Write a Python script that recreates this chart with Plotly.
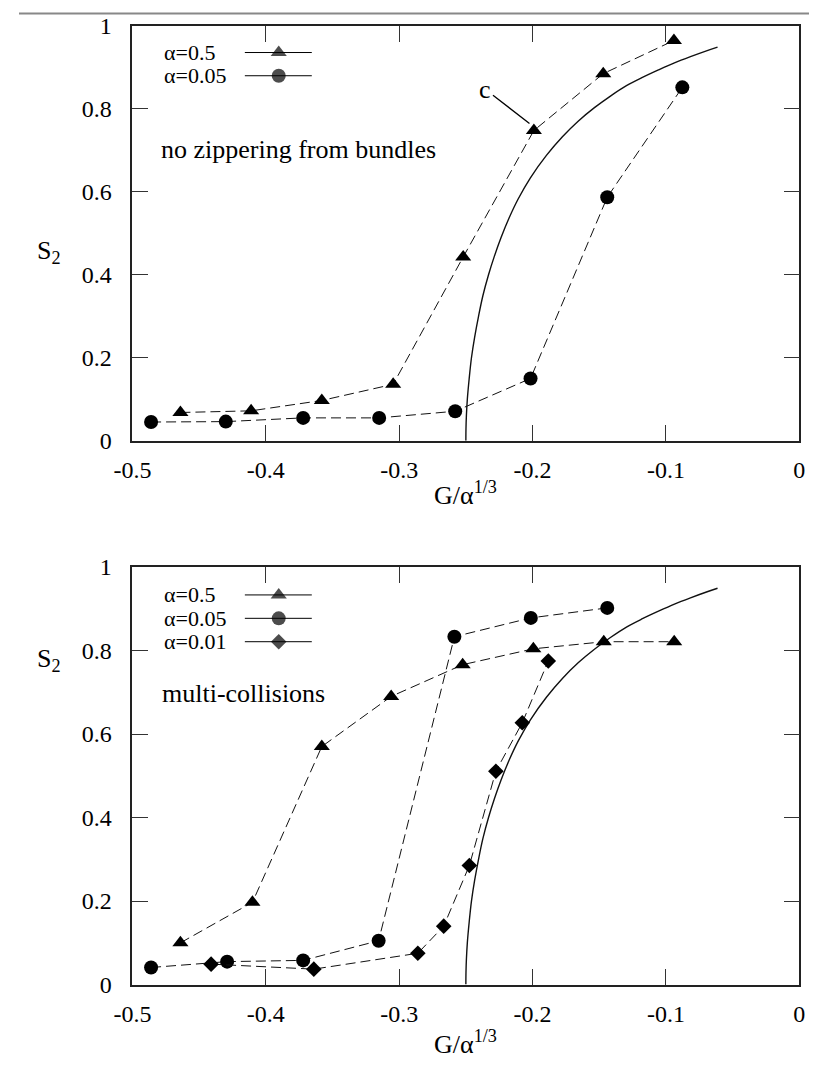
import plotly.graph_objects as go

# ---------------- data ----------------
# top panel: no zippering from bundles
top_a05_x = [-0.464, -0.411, -0.358, -0.3045, -0.252, -0.199, -0.147, -0.094]
top_a05_y = [0.068, 0.072, 0.097, 0.136, 0.443, 0.748, 0.885, 0.965]
top_a005_x = [-0.486, -0.430, -0.372, -0.315, -0.258, -0.2015, -0.144, -0.0877]
top_a005_y = [0.045, 0.046, 0.055, 0.055, 0.071, 0.150, 0.587, 0.852]

# bottom panel: multi-collisions
bot_a05_x = [-0.464, -0.410, -0.358, -0.306, -0.2524, -0.1994, -0.1466, -0.0938]
bot_a05_y = [0.100, 0.197, 0.570, 0.690, 0.766, 0.804, 0.821, 0.821]
bot_a005_x = [-0.486, -0.429, -0.372, -0.3154, -0.2586, -0.2013, -0.144]
bot_a005_y = [0.041, 0.055, 0.058, 0.105, 0.833, 0.878, 0.902]
bot_a001_x = [-0.441, -0.364, -0.286, -0.2666, -0.2474, -0.2275, -0.2077, -0.1882]
bot_a001_y = [0.049, 0.037, 0.075, 0.140, 0.285, 0.511, 0.627, 0.775]

# theory curve (solid)
curve_x = [-0.25, -0.2499, -0.2496, -0.2489, -0.2475, -0.2458, -0.2434, -0.2405,
           -0.2372, -0.233, -0.2286, -0.2236, -0.2176, -0.2106, -0.2016, -0.1896,
           -0.1776, -0.1656, -0.1536, -0.1416, -0.1296, -0.1176, -0.1056, -0.0936,
           -0.0816, -0.0696, -0.0613]
curve_y = [0.0, 0.03, 0.06, 0.10, 0.15, 0.20, 0.25, 0.30,
           0.35, 0.40, 0.445, 0.49, 0.537, 0.584, 0.634, 0.688,
           0.733, 0.771, 0.803, 0.831, 0.856, 0.876, 0.894, 0.911,
           0.926, 0.940, 0.949]

xtick_vals = [-0.5, -0.4, -0.3, -0.2, -0.1, 0]
xtick_text = ["-0.5", "-0.4", "-0.3", "-0.2", "-0.1", "0"]
ytick_vals = [0, 0.2, 0.4, 0.6, 0.8, 1.0]
ytick_text = ["0", "0.2", "0.4", "0.6", "0.8", "1"]

legend_top = ["α=0.5", "α=0.05"]
legend_bot = ["α=0.5", "α=0.05", "α=0.01"]

# ---------------- figure ----------------
W, H = 815, 1074
FONT = "Liberation Serif, Times New Roman, serif"
BLACK = "#000000"
DASH = "10px,5px"

fig = go.Figure()

def add_series(x, y, symbol, size, xa, ya):
    fig.add_trace(go.Scatter(
        x=x, y=y, mode="lines+markers", xaxis=xa, yaxis=ya,
        line=dict(color="#111111", width=1, dash=DASH),
        marker=dict(symbol=symbol, size=size, color=BLACK, line=dict(width=0)),
        showlegend=False, cliponaxis=False))

def add_curve(xa, ya):
    fig.add_trace(go.Scatter(
        x=curve_x, y=curve_y, mode="lines", xaxis=xa, yaxis=ya,
        line=dict(color="#111111", width=1.4, shape="spline", smoothing=1.0),
        showlegend=False))

SYM_TRI = "triangle-up"
SYM_CIR = "circle"
SYM_DIA = "diamond"
SZ_TRI, SZ_CIR, SZ_DIA = 14, 14, 12

add_curve("x", "y")
add_series(top_a05_x, top_a05_y, SYM_TRI, SZ_TRI, "x", "y")
add_series(top_a005_x, top_a005_y, SYM_CIR, SZ_CIR, "x", "y")

add_curve("x2", "y2")
add_series(bot_a05_x, bot_a05_y, SYM_TRI, SZ_TRI, "x2", "y2")
add_series(bot_a005_x, bot_a005_y, SYM_CIR, SZ_CIR, "x2", "y2")
add_series(bot_a001_x, bot_a001_y, SYM_DIA, SZ_DIA, "x2", "y2")

annotations = []

def legend_block(labels, symbols, sizes, rows_y, xa, ya):
    for lab, sym, sz, yy in zip(labels, symbols, sizes, rows_y):
        fig.add_trace(go.Scatter(
            x=[-0.4157, -0.3903, -0.3655], y=[yy, yy, yy],
            mode="lines+markers", xaxis=xa, yaxis=ya,
            line=dict(color=BLACK, width=1),
            marker=dict(symbol=sym, size=[0, sz, 0], color=BLACK, line=dict(width=0)),
            showlegend=False, cliponaxis=False))
        annotations.append(dict(
            x=-0.4775, y=yy, xref=xa, yref=ya, text=lab, showarrow=False,
            xanchor="left", yanchor="middle",
            font=dict(family=FONT, size=22, color=BLACK)))

legend_block(legend_top, [SYM_TRI, SYM_CIR], [SZ_TRI, SZ_CIR], [0.936, 0.880], "x", "y")
legend_block(legend_bot, [SYM_TRI, SYM_CIR, SYM_DIA], [SZ_TRI, SZ_CIR, SZ_DIA],
             [0.933, 0.877, 0.821], "x2", "y2")

annotations += [
    dict(x=-0.4797, y=0.702, xref="x", yref="y", text="no zippering from bundles",
         showarrow=False, xanchor="left", yanchor="middle",
         font=dict(family=FONT, size=26, color=BLACK)),
    dict(x=-0.479, y=0.697, xref="x2", yref="y2", text="multi-collisions",
         showarrow=False, xanchor="left", yanchor="middle",
         font=dict(family=FONT, size=26, color=BLACK)),
    dict(x=-0.2023, y=0.765, xref="x", yref="y", text="c",
         showarrow=True, arrowhead=0, arrowwidth=1.3, arrowcolor=BLACK,
         ax=-44, ay=-34, standoff=0,
         font=dict(family=FONT, size=26, color=BLACK)),
    # axis titles
    dict(x=461 / W, y=1 - 492 / H, xref="paper", yref="paper",
         text="G/α<sup>1/3</sup>", showarrow=False, xanchor="center", yanchor="middle",
         font=dict(family=FONT, size=26, color=BLACK)),
    dict(x=461 / W, y=1 - 1055 / H, xref="paper", yref="paper",
         text="G/α<sup>1/3</sup>", showarrow=False, xanchor="center", yanchor="middle",
         font=dict(family=FONT, size=26, color=BLACK)),
    dict(x=31 / W, y=1 - 245 / H, xref="paper", yref="paper",
         text="S<sub>2</sub>", showarrow=False, xanchor="center", yanchor="middle",
         font=dict(family=FONT, size=26, color=BLACK)),
    dict(x=31 / W, y=1 - 663 / H, xref="paper", yref="paper",
         text="S<sub>2</sub>", showarrow=False, xanchor="center", yanchor="middle",
         font=dict(family=FONT, size=26, color=BLACK)),
]

xdom = [117 / W, 805 / W]
ydom_top = [(H - 438.3) / H, (H - 13.3) / H]
ydom_bot = [(H - 995.7) / H, (H - 567.7) / H]

axis_common = dict(
    showline=True, linecolor="#222222", linewidth=1.6, mirror="allticks",
    ticks="inside", ticklen=16, tickwidth=1.2, tickcolor="#333333",
    showgrid=False, zeroline=False,
    tickfont=dict(family=FONT, size=24, color=BLACK),
)

fig.update_layout(
    width=W, height=H,
    margin=dict(l=0, r=0, t=0, b=0),
    paper_bgcolor="white", plot_bgcolor="white",
    font=dict(family=FONT),
    xaxis=dict(domain=xdom, range=[-0.5, 0], anchor="y",
               tickvals=xtick_vals, ticktext=xtick_text, ticklabelstandoff=7, **axis_common),
    yaxis=dict(domain=ydom_top, range=[0, 1], anchor="x",
               tickvals=ytick_vals, ticktext=ytick_text, ticklabelstandoff=14, **axis_common),
    xaxis2=dict(domain=xdom, range=[-0.5, 0], anchor="y2",
                tickvals=xtick_vals, ticktext=xtick_text, ticklabelstandoff=7, **axis_common),
    yaxis2=dict(domain=ydom_bot, range=[0, 1], anchor="x2",
                tickvals=ytick_vals, ticktext=ytick_text, ticklabelstandoff=14, **axis_common),
    annotations=annotations,
    shapes=[dict(type="line", xref="paper", yref="paper", x0=0, x1=1, y0=0.9995, y1=0.9995,
                 line=dict(color="#888888", width=2))],
    showlegend=False,
)

fig.write_html("out.html")
